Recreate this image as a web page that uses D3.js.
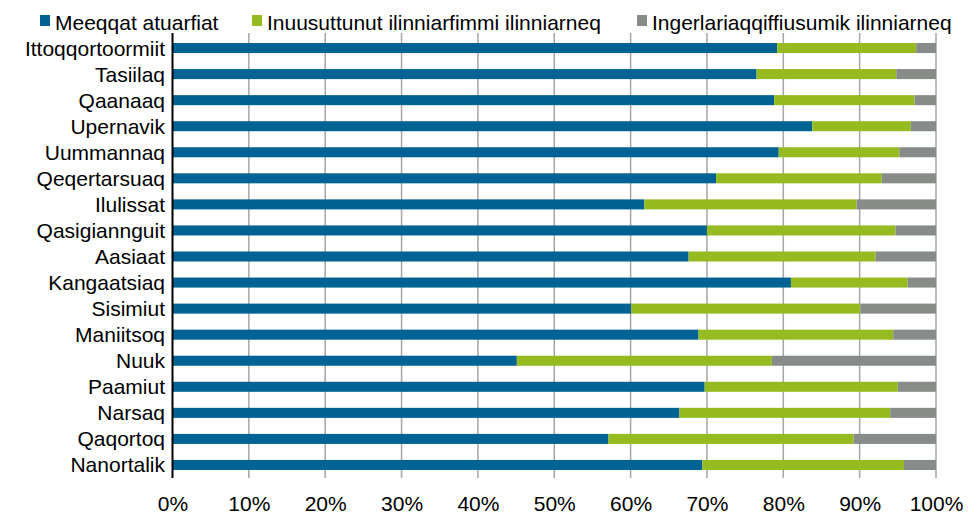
<!DOCTYPE html>
<html>
<head>
<meta charset="utf-8">
<script src="https://cdn.jsdelivr.net/npm/d3@7"></script>
<style>
  html, body { margin: 0; padding: 0; background: #fff; }
  svg { display: block; font-family: "Liberation Sans", Arial, sans-serif; }
</style>
</head>
<body>
<svg id="chart" width="978" height="515"></svg>
<script>
const categories = ["Ittoqqortoormiit","Tasiilaq","Qaanaaq","Upernavik","Uummannaq","Qeqertarsuaq","Ilulissat","Qasigiannguit","Aasiaat","Kangaatsiaq","Sisimiut","Maniitsoq","Nuuk","Paamiut","Narsaq","Qaqortoq","Nanortalik"];
const seriesNames = ["Meeqqat atuarfiat","Inuusuttunut ilinniarfimmi ilinniarneq","Ingerlariaqqiffiusumik ilinniarneq"];
const meeqqat = [79.2,76.5,78.8,83.8,79.4,71.2,61.8,70.0,67.6,81.0,60.1,68.9,45.1,69.7,66.4,57.1,69.4];
const inuusuttunut = [18.2,18.3,18.4,12.9,15.8,21.7,27.8,24.7,24.5,15.3,30.0,25.5,33.4,25.3,27.6,32.1,26.4];
const ingerlariaqqiffiusumik = [2.6,5.2,2.8,3.3,4.8,7.1,10.4,5.3,7.9,3.7,9.9,5.6,21.5,5.0,6.0,10.8,4.2];
const tickValues = [0,10,20,30,40,50,60,70,80,90,100];
const colors = ["#006394","#95bb20","#878c89"];

const svg = d3.select("#chart");
const plotLeft = 172.5, plotRight = 936, plotTop = 35, plotBottom = 478;

const x = d3.scaleLinear().domain([0,100]).range([plotLeft,plotRight]);
const y = d3.scaleBand().domain(categories).range([plotTop,plotBottom]).paddingInner(0.615).paddingOuter(0.3075);

// gridlines
svg.append("g").selectAll("line").data(tickValues.slice(1)).join("line")
  .attr("x1", d => x(d)).attr("x2", d => x(d))
  .attr("y1", plotTop - 2).attr("y2", plotBottom)
  .attr("stroke", "#a6a6a6").attr("stroke-width", 1.5);

const stackData = categories.map((c,i) => ({cat:c, s0:meeqqat[i], s1:inuusuttunut[i], s2:ingerlariaqqiffiusumik[i]}));
const stack = d3.stack().keys(["s0","s1","s2"]).offset(d3.stackOffsetExpand)(stackData);

svg.append("g").selectAll("g").data(stack).join("g")
  .attr("fill", (d,i) => colors[i])
  .selectAll("rect").data(d => d).join("rect")
  .attr("x", d => x(d[0]*100))
  .attr("width", d => x(d[1]*100) - x(d[0]*100))
  .attr("y", d => y(d.data.cat))
  .attr("height", y.bandwidth());

// y axis line
svg.append("line").attr("x1", plotLeft).attr("x2", plotLeft).attr("y1", plotTop - 2).attr("y2", plotBottom)
  .attr("stroke", "#000").attr("stroke-width", 2);

// category labels
svg.append("g").selectAll("text").data(categories).join("text")
  .attr("x", 165).attr("y", d => y(d) + y.bandwidth()/2 + 7.5)
  .attr("text-anchor", "end").attr("font-size", 21).attr("fill", "#000")
  .text(d => d);

// x tick labels
const xAxis = d3.axisBottom(x).tickValues(tickValues).tickFormat(d => d + "%").tickSize(0).tickPadding(0);
const ax = svg.append("g").attr("transform", `translate(0,${plotBottom})`).call(xAxis);
ax.select(".domain").remove();
ax.selectAll("text").attr("font-size", 21).attr("font-family", "Liberation Sans, Arial, sans-serif")
  .attr("fill", "#000").attr("dy", null).attr("y", 33);

// legend
const legendPos = [{sq:40, tx:55},{sq:252, tx:267},{sq:637, tx:652}];
const lg = svg.append("g").selectAll("g").data(seriesNames).join("g");
lg.append("rect").attr("x", (d,i) => legendPos[i].sq).attr("y", 15).attr("width", 10).attr("height", 11)
  .attr("fill", (d,i) => colors[i]);
lg.append("text").attr("x", (d,i) => legendPos[i].tx).attr("y", 29.5)
  .attr("font-size", 21).attr("fill", "#000").text(d => d);
</script>
</body>
</html>
